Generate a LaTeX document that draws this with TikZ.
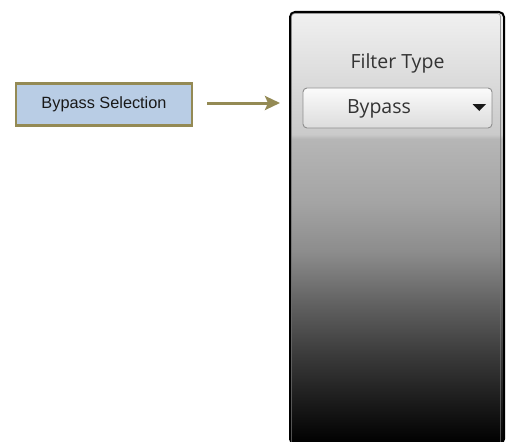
\documentclass[tikz,border=0pt]{standalone}
\usepackage{fontspec}
\setmainfont{Liberation Sans}
\newfontfamily\uifont{Open Sans}
\usetikzlibrary{arrows.meta}
\definecolor{boxfill}{HTML}{B9CDE5}
\definecolor{olive}{HTML}{948A54}
\definecolor{sA}{HTML}{F0F0F0}
\definecolor{sB}{HTML}{CACACA}
\definecolor{sC}{HTML}{B6B6B6}
\definecolor{sD}{HTML}{A4A4A4}
\definecolor{sE}{HTML}{8C8C8C}
\definecolor{sF}{HTML}{626262}
\definecolor{sG}{HTML}{3C3C3C}
\definecolor{sH}{HTML}{1A1A1A}
\definecolor{ddtop}{HTML}{FBFBFB}
\definecolor{ddbot}{HTML}{DCDCDC}
\definecolor{ddline}{HTML}{8E8E8E}
\definecolor{uitext}{HTML}{333333}
\pgfdeclareverticalshading{panelshade}{100bp}{color(0bp)=(black); color(25bp)=(black); color(29.76bp)=(sH); color(35.56bp)=(sG); color(41.36bp)=(sF); color(47.2bp)=(sE); color(52.96bp)=(sD); color(60.3bp)=(sC); color(60.85bp)=(sB); color(74.77bp)=(sA); color(100bp)=(sA)}
\tikzset{
  labelbox/.style={draw=olive, line width=2.8pt, fill=boxfill, minimum width=176pt, minimum height=42pt, inner sep=0pt, font=\fontsize{16.3}{19}\selectfont, text=black!90},
  panelbox/.style={draw=black, line width=2pt, rounded corners=5pt, shading=panelshade, minimum width=214pt, minimum height=432pt, inner sep=0pt},
  dropbox/.style={draw=ddline, line width=0.9pt, rounded corners=4pt, top color=ddtop, bottom color=ddbot, minimum width=189pt, minimum height=40pt, inner sep=0pt},
  uitxt/.style={font=\uifont\fontsize{19.5}{22}\selectfont, text=uitext, inner sep=0pt},
  conn/.style={draw=olive, line width=3pt, -{Stealth[length=15pt,width=14pt,inset=3pt]}}
}
\begin{document}
\begin{tikzpicture}[x=1pt,y=-1pt]
\useasboundingbox (0,0) rectangle (510,441);
\node[panelbox, anchor=north west] (panel) at (289,11) {};
\draw[black!55, line width=0.8pt, rounded corners=3pt, opacity=0.7] (291.5,13.5) rectangle (500.5,445);
\node[uitxt] (ftype) at (397.5,63) {Filter Type};
\node[dropbox] (drop) at (397.5,108) {};
\node[uitxt] (dval) at (379,109) {Bypass};
\fill[black!90] (472.5,104) -- (486,104) -- (479.25,111) -- cycle;
\node[labelbox] (bsel) at (104,104.5) {Bypass Selection};
\coordinate (tip) at (280,103);
\draw[conn, shorten <=14pt] (bsel.east |- tip) -- (tip);
\end{tikzpicture}
\end{document}
